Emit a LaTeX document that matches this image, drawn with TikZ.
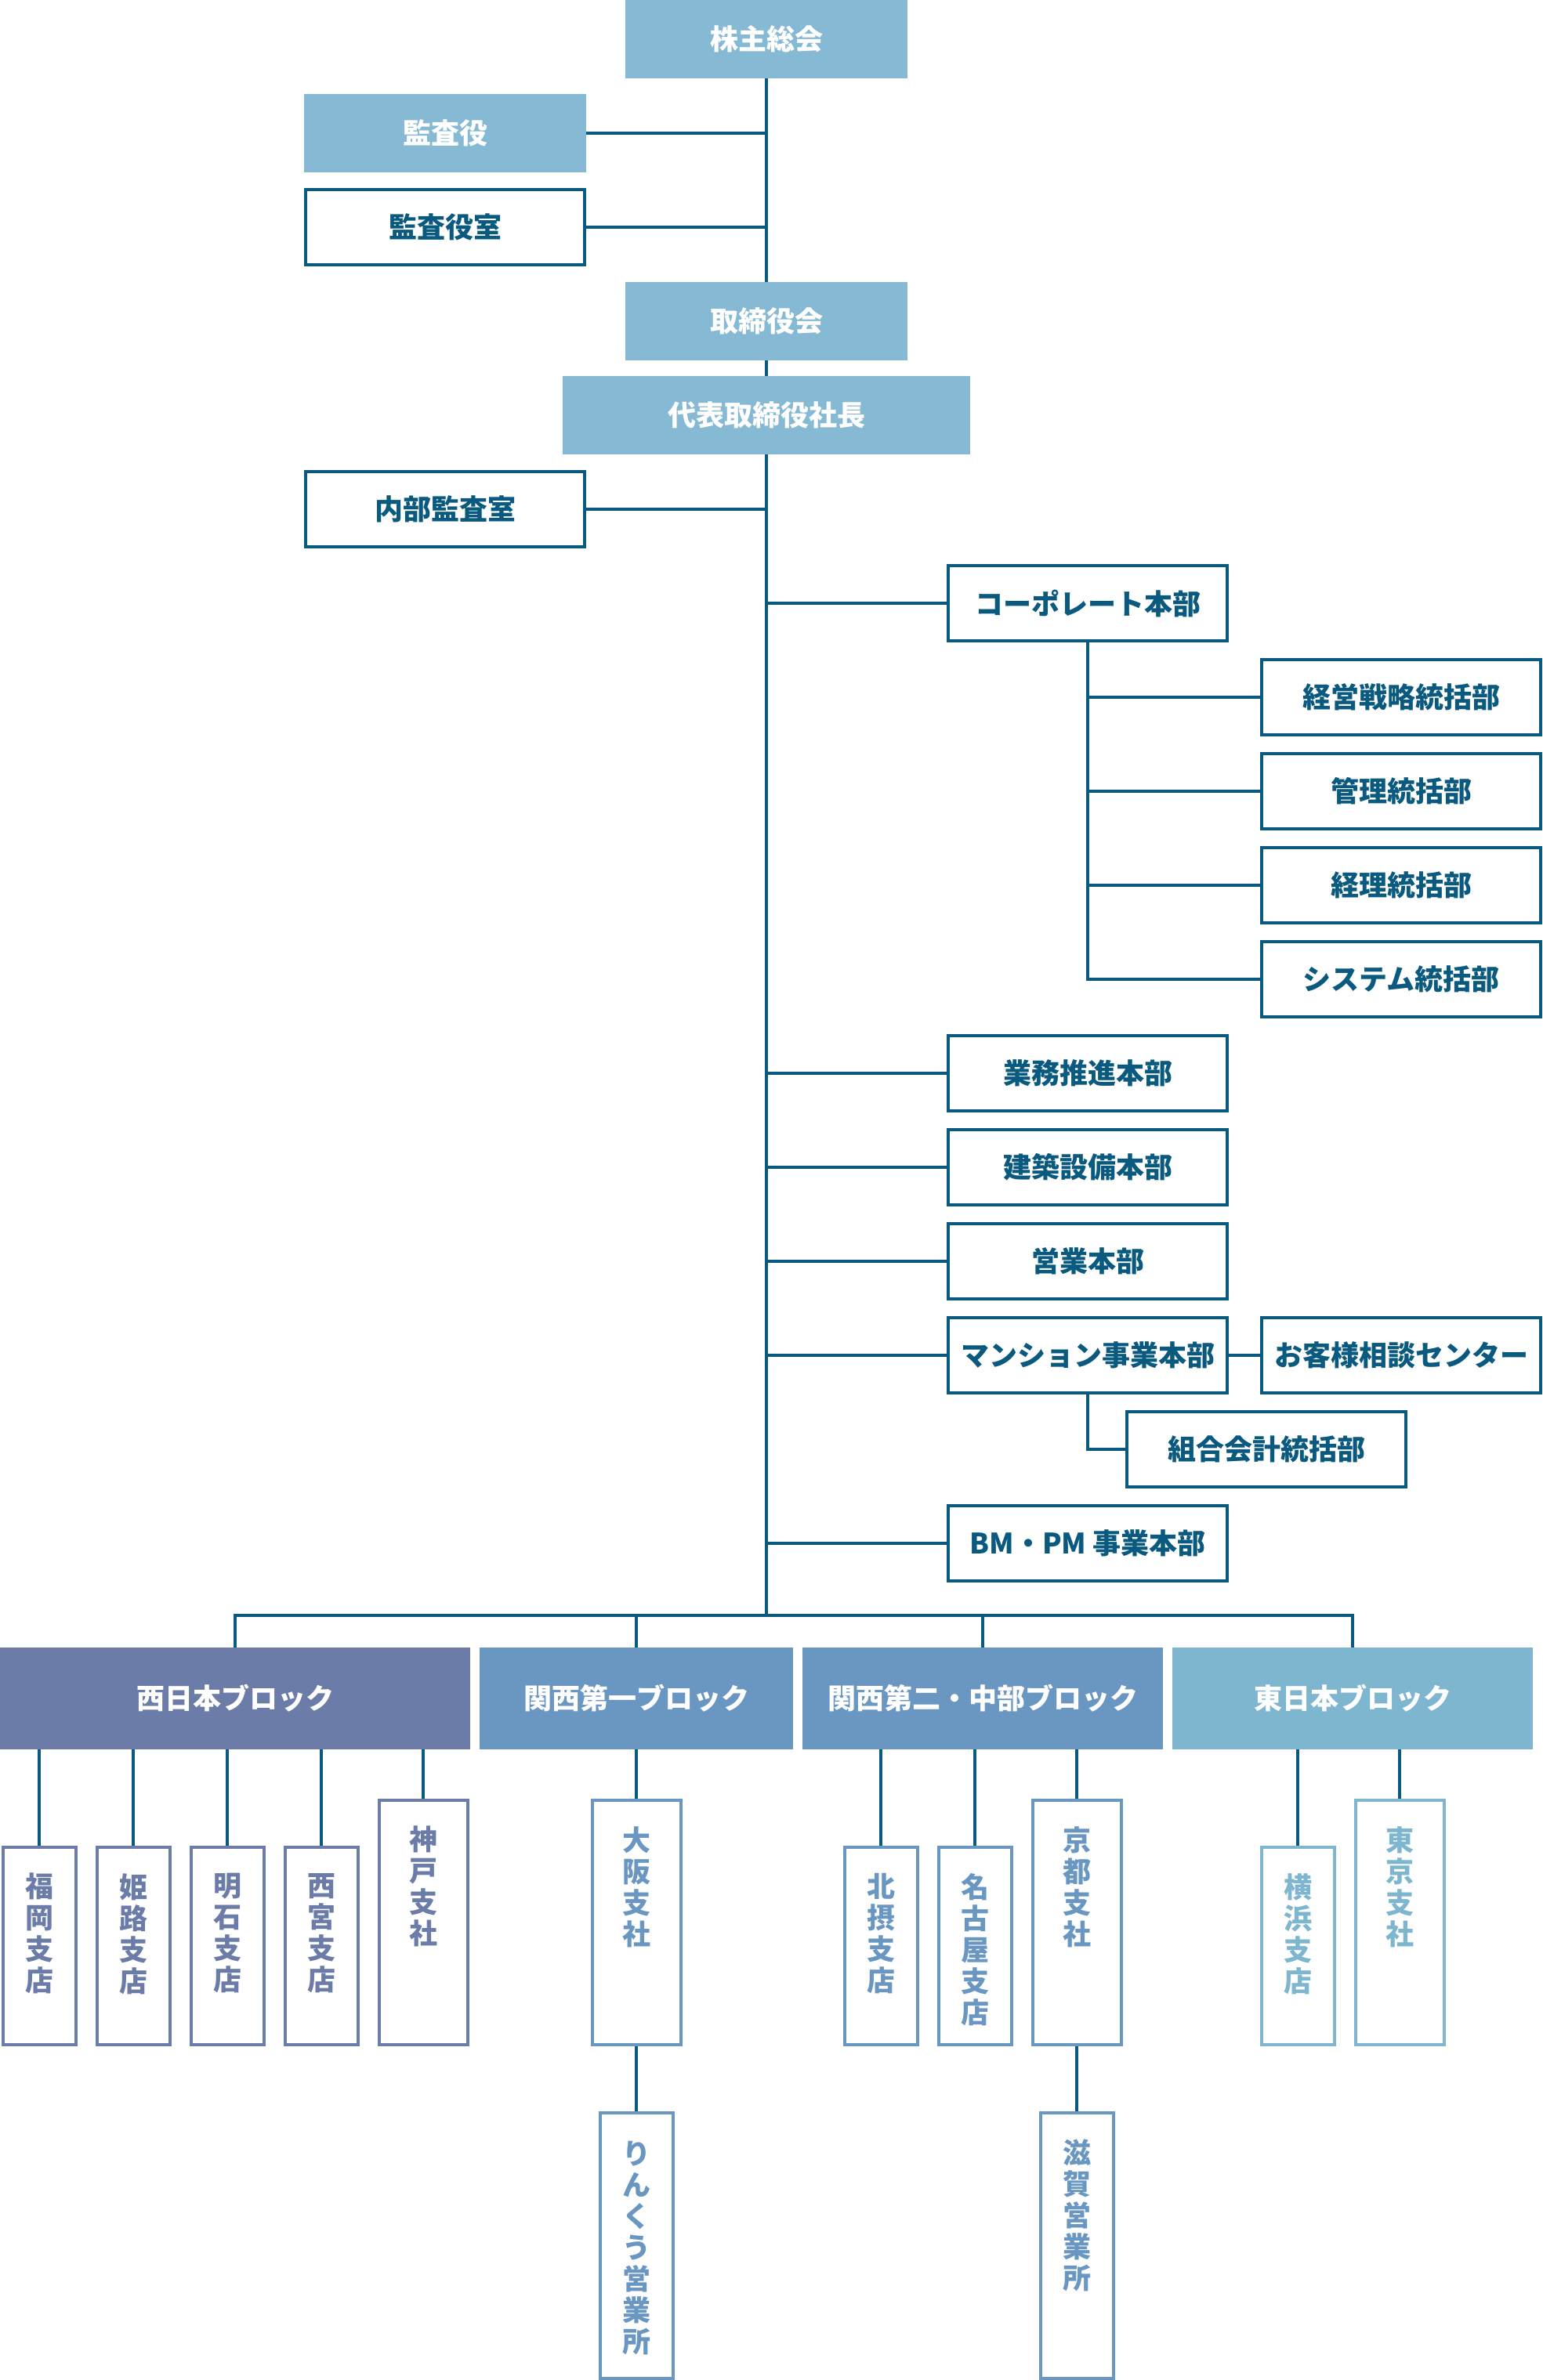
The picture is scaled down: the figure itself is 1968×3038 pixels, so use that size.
\documentclass[tikz,border=0pt]{standalone}
\usepackage{fontspec}
\setmainfont{Noto Sans CJK JP}
\usetikzlibrary{calc}
\definecolor{dk}{HTML}{0A5A80}
\definecolor{lb}{HTML}{86B9D3}
\definecolor{cw}{HTML}{6C7CA8}
\definecolor{ck}{HTML}{6A97C1}
\definecolor{ce}{HTML}{7EB5CF}
\begin{document}
\begin{tikzpicture}[x=1pt,y=-1pt,
  every node/.style={inner sep=0pt},
  hfont/.style={font=\bfseries\fontsize{36}{40}\selectfont},
  fbox/.style={hfont, fill=lb, text=white, minimum height=100pt},
  obox/.style={hfont, draw=dk, line width=4pt, fill=white, text=dk, minimum width=356pt, minimum height=96pt},
  blk/.style={hfont, text=white, minimum height=130pt},
  cbox/.style={draw=#1, line width=4pt, fill=white},
  shortbox/.style={cbox=#1, minimum width=93pt, minimum height=252pt},
  tallbox/.style={cbox=#1, minimum width=113pt, minimum height=312pt},
  lowbox/.style={cbox=#1, minimum width=93pt, minimum height=339pt},
  vlab/.style={hfont, text=#1, align=center, anchor=north},
  conn/.style={draw=dk, line width=4pt}
]
\useasboundingbox (0,0) rectangle (1968,3038);

% ---- top part
\node[fbox, minimum width=360pt] (kabu) at (978,50) {株主総会};
\node[fbox, minimum width=360pt] (kansa) at (568,170) {監査役};
\node[obox] (kansashitsu) at (568,290) {監査役室};
\node[fbox, minimum width=360pt] (tori) at (978,410) {取締役会};
\node[fbox, minimum width=520pt] (shacho) at (978,530) {代表取締役社長};
\node[obox] (naibu) at (568,650) {内部監査室};
\node[obox] (corp) at (1388,770) {コーポレート本部};
\node[obox] (keiei) at (1788,890) {経営戦略統括部};
\node[obox] (kanri) at (1788,1010) {管理統括部};
\node[obox] (keiri) at (1788,1130) {経理統括部};
\node[obox] (system) at (1788,1250) {システム統括部};
\node[obox] (gyomu) at (1388,1370) {業務推進本部};
\node[obox] (kenchiku) at (1388,1490) {建築設備本部};
\node[obox] (eigyo) at (1388,1610) {営業本部};
\node[obox] (mansion) at (1388,1730) {マンション事業本部};
\node[obox] (okyaku) at (1788,1730) {お客様相談センター};
\node[obox] (kumiai) at (1616,1850) {組合会計統括部};
\node[obox] (bmpm) at (1388,1970) {BM・PM 事業本部};

\coordinate (bus) at (978,2062);

% ---- blocks
\node[blk, fill=cw, minimum width=600pt] (west) at (300,2168) {西日本ブロック};
\node[blk, fill=ck, minimum width=400pt] (k1) at (812,2168) {関西第一ブロック};
\node[blk, fill=ck, minimum width=460pt] (k2) at (1254,2168) {関西第二・中部ブロック};
\node[blk, fill=ce, minimum width=460pt] (east) at (1726,2168) {東日本ブロック};

% ---- branch boxes
\node[shortbox=cw] (fukuoka) at (50,2484) {};
\node[shortbox=cw] (himeji) at (170,2484) {};
\node[shortbox=cw] (akashi) at (290,2484) {};
\node[shortbox=cw] (nishinomiya) at (410,2484) {};
\node[tallbox=cw] (kobe) at (540,2454) {};
\node[tallbox=ck] (osaka) at (812,2454) {};
\node[lowbox=ck] (rinku) at (812,2866.5) {};
\node[shortbox=ck] (hokusetsu) at (1124,2484) {};
\node[shortbox=ck] (nagoya) at (1244,2484) {};
\node[tallbox=ck] (kyoto) at (1374,2454) {};
\node[lowbox=ck] (shiga) at (1374,2866.5) {};
\node[shortbox=ce] (yokohama) at (1656,2484) {};
\node[tallbox=ce] (tokyo) at (1786,2454) {};

\node[vlab=cw] (fukuokaT) at ($(fukuoka.north)+(0,35)$) {福\\岡\\支\\店};
\node[vlab=cw] (himejiT) at ($(himeji.north)+(0,35)$) {姫\\路\\支\\店};
\node[vlab=cw] (akashiT) at ($(akashi.north)+(0,35)$) {明\\石\\支\\店};
\node[vlab=cw] (nishinomiyaT) at ($(nishinomiya.north)+(0,35)$) {西\\宮\\支\\店};
\node[vlab=cw] (kobeT) at ($(kobe.north)+(0,35)$) {神\\戸\\支\\社};
\node[vlab=ck] (osakaT) at ($(osaka.north)+(0,35)$) {大\\阪\\支\\社};
\node[vlab=ck] (rinkuT) at ($(rinku.north)+(0,38)$) {り\\ん\\く\\う\\営\\業\\所};
\node[vlab=ck] (hokusetsuT) at ($(hokusetsu.north)+(0,35)$) {北\\摂\\支\\店};
\node[vlab=ck] (nagoyaT) at ($(nagoya.north)+(0,35)$) {名\\古\\屋\\支\\店};
\node[vlab=ck] (kyotoT) at ($(kyoto.north)+(0,35)$) {京\\都\\支\\社};
\node[vlab=ck] (shigaT) at ($(shiga.north)+(0,35)$) {滋\\賀\\営\\業\\所};
\node[vlab=ce] (yokohamaT) at ($(yokohama.north)+(0,35)$) {横\\浜\\支\\店};
\node[vlab=ce] (tokyoT) at ($(tokyo.north)+(0,35)$) {東\\京\\支\\社};

% ---- connectors
\draw[conn] (kabu.south) -- (tori.north);
\draw[conn] (tori.south) -- (shacho.north);
\draw[conn] (shacho.south) -- (bus);
\draw[conn] (kansa.east) -- (kansa.east -| kabu.south);
\draw[conn] (kansashitsu.east) -- (kansashitsu.east -| kabu.south);
\draw[conn] (naibu.east) -- (naibu.east -| bus);
\foreach \n in {corp,gyomu,kenchiku,eigyo,mansion,bmpm}
  \draw[conn] (\n.west) -- (\n.west -| bus);
\draw[conn] (corp.south) |- (system.west);
\foreach \n in {keiei,kanri,keiri}
  \draw[conn] (\n.west) -- (\n.west -| corp.south);
\draw[conn] (mansion.east) -- (okyaku.west);
\draw[conn] (mansion.south) |- (kumiai.west);
\draw[conn] (west.north) -- (west.north |- bus) -- (east.north |- bus) -- (east.north);
\draw[conn] (k1.north) -- (k1.north |- bus);
\draw[conn] (k2.north) -- (k2.north |- bus);
\foreach \n in {fukuoka,himeji,akashi,nishinomiya,kobe}
  \draw[conn] (\n.north) -- (\n.north |- west.south);
\draw[conn] (osaka.north) -- (osaka.north |- k1.south);
\foreach \n in {hokusetsu,nagoya,kyoto}
  \draw[conn] (\n.north) -- (\n.north |- k2.south);
\foreach \n in {yokohama,tokyo}
  \draw[conn] (\n.north) -- (\n.north |- east.south);
\draw[conn] (osaka.south) -- (rinku.north);
\draw[conn] (kyoto.south) -- (shiga.north);
\end{tikzpicture}
\end{document}
